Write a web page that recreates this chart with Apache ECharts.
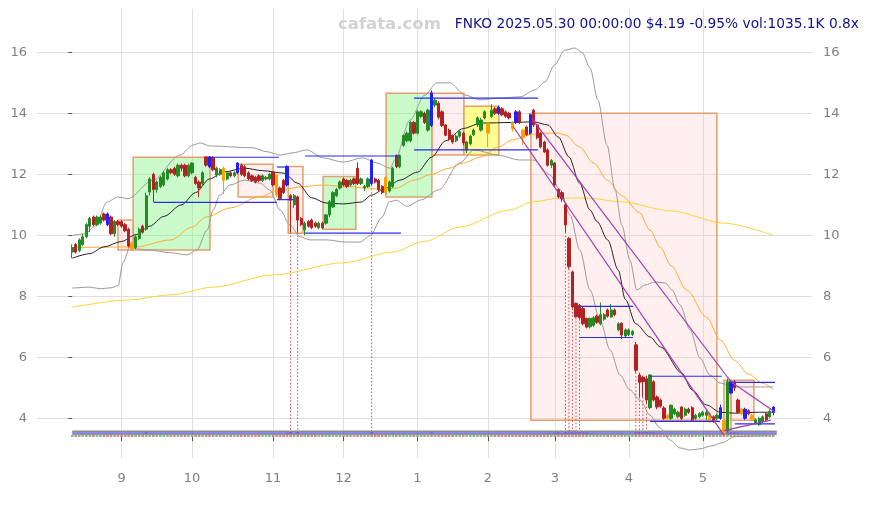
<!DOCTYPE html>
<html><head><meta charset="utf-8">
<script src="https://cdn.jsdelivr.net/npm/echarts@6/dist/echarts.min.js"></script>
<style>html,body{margin:0;padding:0;background:#fff}#c{width:869px;height:505px}</style>
</head><body><div id="c"></div>
<script>
// ---------- calendar ----------
const firstDay = '2024-08-13', lastDay = '2025-05-30';
const holidays = ['2024-09-02','2024-11-28','2024-12-25','2025-01-01','2025-01-09','2025-01-20','2025-02-17','2025-04-18','2025-05-26'];
const padLeft = 10, padRight = 11;

// ---------- OHLC [open, close, low, high] ----------
const ohlcAug = [[9.45,9.6,9.25,9.7],[9.7,9.45,9.4,9.75],[9.5,9.85,9.45,9.9],[9.7,9.95,9.65,10.05],[9.95,10.35,9.9,10.4],[10.3,10.55,10.1,10.6],[10.6,10.35,10.3,10.65],[10.35,10.6,10.3,10.65],[10.4,10.6,10.35,10.65],[10.7,10.5,10.45,10.75],[10.7,10.35,10.3,10.75],[10.6,10.05,10.0,10.65],[10.05,10.45,9.95,10.5],[10.45,10.35,10.3,10.5]];
const ohlcSep = [[10.45,10.3,10.25,10.5],[10.35,10.15,10.1,10.4],[10.2,9.65,9.6,10.25],[9.75,9.55,9.5,9.8],[9.6,9.95,9.55,10.0],[9.9,10.2,9.85,10.25],[10.3,10.1,10.05,10.35],[10.2,11.3,10.15,11.4],[11.42,11.85,11.3,11.9],[12.0,11.5,11.08,12.05],[11.5,11.75,11.4,11.8],[11.6,11.9,11.55,11.95],[11.65,12.05,11.6,12.1],[11.85,12.15,11.8,12.2],[12.15,12.05,12.0,12.2],[12.2,12.0,11.95,12.25],[11.95,12.3,11.9,12.35],[12.3,12.2,12.1,12.35],[12.3,11.95,11.9,12.35],[11.95,12.3,11.9,12.35]];
const ohlcOct = [[12.05,12.37,12.0,12.4],[11.9,11.7,11.65,11.95],[11.75,11.55,11.25,11.8],[11.7,12.05,11.65,12.1],[12.57,12.3,12.25,12.6],[12.57,12.25,12.2,12.6],[12.55,12.15,12.1,12.6],[11.98,12.2,11.9,12.25],[12.0,12.15,11.95,12.2],[12.2,11.8,11.35,12.25],[11.85,12.05,11.8,12.1],[12.05,11.95,11.9,12.1],[11.95,12.05,11.9,12.1],[12.37,12.05,12.0,12.4],[12.3,12.0,11.95,12.35],[12.25,11.95,11.9,12.3],[12.05,11.85,11.8,12.1],[11.95,11.8,11.75,12.0],[11.9,11.75,11.7,11.95],[11.95,11.8,11.75,12.0],[11.8,11.95,11.75,12.0],[11.85,11.9,11.8,11.95],[11.85,12.0,11.8,12.05]];
const ohlcNov = [[12.07,11.65,11.6,12.1],[11.98,11.32,11.25,12.0],[11.55,11.2,11.15,11.6],[11.8,11.4,11.35,11.85],[12.25,11.65,11.6,12.3],[11.3,11.15,10.1,11.35],[11.0,11.3,10.9,11.35],[11.26,10.5,10.1,11.3],[10.55,10.35,10.3,10.6],[10.18,10.4,10.0,10.45],[10.45,10.3,10.25,10.5],[10.5,10.25,10.2,10.55],[10.4,10.3,10.25,10.45],[10.25,10.4,10.2,10.45],[10.4,10.25,10.2,10.45],[10.4,10.67,10.35,10.7],[10.67,11.1,10.6,11.15],[10.93,11.4,10.9,11.45],[11.3,11.5,11.25,11.55],[11.55,11.75,11.5,11.8]];
const ohlcDec = [[11.85,11.65,11.6,11.9],[11.8,11.6,11.55,11.85],[11.65,11.8,11.6,11.85],[11.85,11.7,11.65,11.9],[12.2,11.7,11.65,12.4],[11.7,11.85,11.65,11.9],[11.55,11.6,11.45,11.65],[11.6,11.85,11.55,11.9],[12.47,11.7,11.65,12.5],[11.85,11.75,11.7,11.9],[11.8,11.5,11.45,11.85],[11.6,11.4,11.35,11.65],[11.9,11.4,11.3,11.95],[11.45,11.75,11.4,11.8],[11.6,12.2,11.55,12.25],[12.62,12.25,12.2,12.65],[12.25,12.62,12.2,12.65],[12.95,13.28,12.9,13.3],[13.1,13.35,13.05,13.4],[13.1,13.7,13.05,13.75],[13.7,13.35,13.3,13.75]];
const ohlcJan = [[13.35,14.05,13.3,14.1],[13.9,14.05,13.85,14.1],[14.0,13.7,13.65,14.05],[13.45,14.1,13.4,14.15],[14.67,13.6,13.55,14.75],[14.27,14.43,14.2,14.5],[14.33,13.87,13.8,14.4],[14.05,13.6,13.55,14.1],[13.62,13.28,13.25,13.65],[13.45,13.15,13.1,13.5],[13.28,13.06,13.0,13.3],[13.1,13.25,13.05,13.3],[13.25,13.4,13.2,13.45],[13.35,13.03,12.95,13.4],[12.8,13.06,12.7,13.1],[13.0,13.25,12.95,13.3],[13.3,13.45,13.25,13.5],[13.62,13.85,13.55,13.9],[13.45,13.78,13.4,13.85],[13.85,14.05,13.8,14.1]];
const ohlcFeb = [[13.65,13.35,12.9,13.7],[13.9,14.1,13.85,14.3],[14.15,14.0,13.95,14.2],[14.2,14.0,13.95,14.25],[14.15,13.95,13.9,14.2],[14.05,13.9,13.85,14.1],[14.0,13.85,13.8,14.05],[13.7,13.5,13.4,13.75],[14.05,13.7,13.65,14.1],[14.05,13.7,13.65,14.1],[13.45,13.2,12.95,13.5],[13.55,13.3,13.25,13.6],[13.95,13.35,13.3,14.0],[14.1,13.62,13.55,14.15],[13.62,13.2,13.15,13.65],[13.35,12.9,12.85,13.4],[13.06,12.73,12.7,13.1],[12.8,12.3,12.25,12.85],[12.3,12.45,12.2,12.5]];
const ohlcMar = [[12.37,11.65,11.6,12.4],[11.5,11.26,11.2,11.55],[11.4,11.2,11.1,11.45],[11.0,10.34,10.1,11.05],[9.9,8.97,8.9,9.95],[8.8,7.65,7.6,8.85],[7.77,7.33,7.3,7.8],[7.7,7.3,7.25,7.75],[7.6,7.1,7.05,7.65],[7.28,6.99,6.95,7.3],[7.0,7.28,6.95,7.3],[7.05,7.3,7.0,7.35],[7.35,7.15,7.1,7.4],[7.1,7.4,7.05,7.8],[7.25,7.4,7.2,7.45],[7.55,7.35,7.3,7.6],[7.32,7.55,7.3,7.75],[7.55,7.4,7.35,7.6],[6.9,7.1,6.85,7.15],[7.12,6.73,6.6,7.15],[6.7,6.9,6.65,6.95]];
const ohlcApr = [[6.75,6.9,6.7,6.95],[6.75,6.85,6.7,6.9],[6.41,5.58,5.5,6.5],[5.42,5.18,4.7,5.5],[5.35,5.2,4.7,5.4],[5.3,4.6,4.5,5.4],[4.35,5.42,4.3,5.45],[5.2,4.6,4.55,5.25],[4.7,4.37,4.3,4.75],[4.6,4.4,4.35,4.65],[4.34,4.0,3.95,4.4],[4.1,4.0,3.95,4.15],[4.0,4.43,3.95,4.45],[4.15,4.3,4.1,4.35],[4.05,4.2,4.0,4.25],[4.37,4.0,3.95,4.4],[4.1,4.3,4.05,4.35],[4.3,4.2,4.15,4.35],[4.35,3.95,3.9,4.4],[4.0,4.1,3.95,4.15],[4.05,4.15,4.0,4.2]];
const ohlcMay = [[4.1,4.2,4.05,4.25],[4.1,4.2,3.95,4.3],[4.15,3.9,3.85,4.2],[4.05,3.9,3.85,4.1],[4.0,4.1,3.95,4.15],[4.35,4.0,3.95,4.45],[3.94,3.5,3.4,4.0],[3.6,5.2,3.55,5.3],[5.2,4.83,4.8,5.25],[5.2,5.0,4.9,5.25],[4.6,4.2,4.15,4.65],[4.3,4.15,4.1,4.35],[4.3,4.0,3.95,4.35],[4.25,4.15,4.1,4.3],[4.1,3.95,3.9,4.15],[3.85,3.95,3.8,4.0],[3.8,4.0,3.75,4.05],[3.9,4.05,3.85,4.1],[4.15,3.95,3.9,4.2],[4.05,4.23,4.0,4.3],[4.37,4.19,4.1,4.4]];

// volume (K shares), as drawn (small bars at the bottom)
const volAug = [900,850,1100,950,1200,1000,900,800,850,900,1500,1300,1000,800];
const volSep = [900,850,1400,1200,1000,900,950,2400,1500,1400,1100,1000,950,900,850,800,900,850,950,1000];
const volOct = [1000,1100,1000,900,950,1300,1000,900,1100,850,800,900,850,1200,950,900,850,800,850,900,850,800,1000];
const volNov = [1500,1300,1100,1000,2000,2400,1500,2300,1400,1300,1000,1100,900,850,900,1200,1500,1400,1100,1000];
const volDec = [900,950,1000,850,1300,1000,950,1100,2500,1500,1000,1200,1400,1000,1600,1300,1200,1800,1400,1500,1200];
const volJan = [1600,1300,1100,1300,2200,1500,1400,1300,1200,1100,1000,1000,950,1100,1200,1000,1000,1100,1000,1200];
const volFeb = [1300,1100,1000,1100,1000,950,900,1000,1300,1100,1200,1000,1400,1600,1500,1400,1600,1800,1500];
const volMar = [2000,2200,1800,2800,3200,3000,2800,2600,2500,2200,1800,1600,1500,1400,1500,1300,1400,1300,1500,1700,1400];
const volApr = [1300,1200,2800,2700,2400,2600,2800,2200,1800,1700,1800,1400,1700,1500,1300,1400,1300,1200,1500,1200,1100];
const volMay = [1200,1300,1400,1300,1200,1500,2200,3200,2700,2200,2000,1600,1500,1400,1300,1200,1300,1200,1100,1300,1035.1];

// specially coloured candles (day index)
const blueCandles = [10,39,47,61,85,102,121,126,130,184,187,191,199];
const orangeCandles = [17,43,58,89,118,125,128,169,181,185,190,193];

// indicator lines, read at sampled days: [dayIndex, value]
const blackLine = [[0,9.25],[5,9.4],[9,9.62],[14,9.8],[18,10.02],[22,10.3],[26,10.62],[31,11.0],[35,11.4],[39,11.85],[43,12.08],[49,12.2],[54,12.12],[60,12.04],[64,11.71],[68,11.23],[72,11.06],[77,11.03],[82,11.09],[85,11.32],[89,11.55],[93,11.81],[98,12.07],[102,12.56],[106,13.1],[111,13.5],[116,13.68],[125,13.7],[131,13.72],[135,13.62],[138,13.22],[141,12.57],[144,11.72],[147,10.83],[149,10.45],[152,9.85],[155,8.86],[157,7.9],[160,7.1],[164,6.67],[167,6.34],[173,5.49],[176,4.93],[180,4.44],[184,4.2],[188,4.17],[195,4.2],[199,4.2]];
const bbUpper = [[0,10.0],[3.6,10.05],[6.5,10.3],[9.9,11.09],[13,11.26],[15.8,11.2],[22.9,11.81],[30.6,12.63],[34.3,12.96],[36.3,13.03],[39.1,12.93],[51.3,12.87],[55.3,12.74],[59,12.63],[62.4,12.7],[66.6,12.8],[71.2,12.54],[76.9,12.4],[82.5,12.54],[86.5,12.37],[90.2,12.2],[91.6,12.47],[95.9,13.78],[100.1,14.6],[103.5,15.0],[107.2,15.0],[111.5,14.6],[115.7,14.44],[121.4,14.5],[127.1,14.54],[131.4,14.77],[134.2,15.03],[137,15.6],[139.8,16.07],[142.7,16.14],[144.7,16.0],[147,15.49],[149.2,14.44],[151.8,12.96],[154.1,11.49],[156,10.34],[158.3,9.19],[160.3,8.21],[162.6,8.37],[165.4,8.47],[168.3,8.44],[170.3,8.21],[172.5,7.72],[175.4,6.9],[178.2,5.98],[181,5.42],[183.9,5.16],[188.1,5.03],[199,5.03]];
const bbLower = [[0,8.27],[5,8.3],[8,8.25],[11,8.28],[13,8.35],[14.4,9.1],[16.4,9.62],[18.6,9.55],[22,9.52],[27.8,9.43],[32.6,9.36],[35.4,9.52],[38.3,10.17],[40,10.83],[41.9,11.32],[44.8,11.65],[49,11.81],[53.3,11.71],[56.1,11.49],[59,10.83],[61.8,10.34],[64.7,9.95],[67.5,9.85],[72.3,9.85],[77.4,9.78],[81.7,9.78],[84.5,9.98],[88,10.6],[90,11.1],[92,11.15],[95,10.95],[99,11.16],[104,11.49],[110,12.37],[114,12.8],[121,12.63],[127,12.47],[131,12.47],[135.6,11.98],[138.5,11.49],[141.3,10.67],[144.1,9.52],[147,8.21],[149.8,7.22],[152.7,6.24],[155.5,5.42],[158.3,4.93],[161.2,4.6],[164,4.1],[166.9,3.68],[169.7,3.29],[172.5,3.03],[175.4,2.96],[178.2,3.0],[181.6,3.1],[184.5,3.2],[188.1,3.4],[195.2,3.43],[199.5,3.48]];
const orangeLine = [[0,9.6],[18,9.62],[28,9.85],[34,10.27],[38,10.6],[45,10.9],[53,11.26],[59,11.49],[66,11.6],[71,11.65],[78,11.6],[84,11.55],[88,11.5],[92,11.55],[97,11.81],[102,12.0],[107,12.2],[111,12.37],[116,12.57],[121,12.9],[125,13.13],[130,13.3],[134,13.35],[138,13.35],[140,13.29],[144,12.9],[148,12.37],[152,11.8],[156,11.3],[161,10.75],[164,10.17],[167,9.6],[170,9.0],[174.5,8.2],[180,7.32],[184,6.57],[188,5.9],[192,5.45],[196,5.15],[199,4.95]];
const yellowLine = [[0,7.64],[16,7.88],[28,8.05],[40,8.3],[57,8.7],[77,9.1],[91,9.45],[100,9.8],[110,10.27],[124,10.83],[131,11.1],[138,11.22],[146,11.22],[156,11.1],[170,10.8],[185,10.4],[199,10.0]];

// zones: [fromDay, toDay, top, bottom]
const greenZones = [[17.3,39.1,12.56,9.52],[71.2,80.5,11.93,10.2],[89.1,102.1,14.66,11.26],[185,187,5.25,3.6]];
const pinkZones = [[13,17.3,10.5,9.52],[47.1,57.0,12.33,11.26],[61.3,65.5,12.26,10.07],[102.1,111.2,14.66,12.63],[130.2,183,14.0,3.94],[187,193.5,5.25,3.94]];
const yellowZones = [[111.2,121.1,14.23,12.63]];

// horizontal levels: [fromDay, toDay, value]
const blueLevels = [[23.2,58.1,11.08],[39.1,58.7,12.56],[58.1,61.3,12.24],[58.1,62.7,11.17],[66.1,93.0,12.6],[66.1,93.3,10.07],[97,132.2,12.8],[97,132.2,14.5],[144.1,159.2,7.67],[144.1,159.2,6.65],[164,184.4,5.38],[164,183.9,3.9],[187.5,199.5,5.18],[188.1,199.5,3.82]];
// trend lines: [fromDay, fromValue, toDay, toValue]
const purpleLines = [[125.2,13.56,185,3.45],[130.4,13.84,187,5.2],[187,5.2,199.6,4.2],[185,3.6,198.3,3.94]];
// dotted markers from the day's low down to the volume strip
const redMarkDays = [62,64,140,141,142,143,144,160,161,162,163];
const greenMarkDays = [85];
const markBase = 3.52;
// volume strip reference lines [value]
const volStripGray = [3.567, 3.469];
const volStripBlue = [3.518];

// y ticks
const yTicks = [4,6,8,10,12,14,16];
const yMin = 2.7, yMax = 17.42;

const titleText = 'FNKO 2025.05.30 00:00:00 $4.19 -0.95% vol:1035.1K 0.8x';
const watermark = 'cafata.com';

// ---------- build ----------
function tradingDays(){
  const out=[]; let t=Date.parse(firstDay+'T00:00:00Z'); const end=Date.parse(lastDay+'T00:00:00Z');
  while(t<=end){ const d=new Date(t); const wd=d.getUTCDay(); const s=d.toISOString().slice(0,10);
    if(wd!==0&&wd!==6&&holidays.indexOf(s)<0) out.push(s); t+=86400000; }
  return out;
}
const days = tradingDays();
const ohlc = [].concat(ohlcAug,ohlcSep,ohlcOct,ohlcNov,ohlcDec,ohlcJan,ohlcFeb,ohlcMar,ohlcApr,ohlcMay);
const vols = [].concat(volAug,volSep,volOct,volNov,volDec,volJan,volFeb,volMar,volApr,volMay);
const n = days.length;
const cats = [];
for(let i=0;i<padLeft;i++) cats.push('L'+i);
days.forEach(d=>cats.push(d));
for(let i=0;i<padRight;i++) cats.push('R'+i);
const monthStart = new Set();
for(let i=1;i<n;i++){ if(days[i].slice(5,7)!==days[i-1].slice(5,7)) monthStart.add(i+padLeft); }
const isMonthStart = (idx)=>monthStart.has(idx);

const GREEN='#228b22', RED='#b22222', BLUE='#1f1fff', ORANGE='#ffa000';
const candleData=[], volData=[];
for(let i=0;i<padLeft;i++){ candleData.push(['-','-','-','-']); volData.push('-'); }
ohlc.forEach((r,i)=>{
  const item={value:r};
  let c=null;
  if(blueCandles.indexOf(i)>=0) c=BLUE; else if(orangeCandles.indexOf(i)>=0) c=ORANGE;
  if(c) item.itemStyle={color:c,color0:c,borderColor:c,borderColor0:c};
  candleData.push(item);
  const up = r[1]>=r[0];
  volData.push({value:vols[i], itemStyle:{color: up?'rgba(34,139,34,0.55)':'rgba(178,34,34,0.55)'}});
});
for(let i=0;i<padRight;i++){ candleData.push(['-','-','-','-']); volData.push('-'); }

const zoneData = [];
pinkZones.forEach(z=>zoneData.push(z.concat([0])));
greenZones.forEach(z=>zoneData.push(z.concat([1])));
yellowZones.forEach(z=>zoneData.push(z.concat([2])));
const zoneFill = ['rgba(255,205,205,0.32)','rgba(140,245,140,0.45)','rgba(255,255,110,0.75)'];

const markData = [];
redMarkDays.forEach(d=>markData.push([d, ohlc[d][2], markBase, 0]));
greenMarkDays.forEach(d=>markData.push([d, ohlc[d][2], markBase, 1]));

const gridTop=9, gridBottomPx=458, gridLeft=37, gridRight=812;
const gridH = gridBottomPx-gridTop;
const volPxPerK = 0.0022, volBasePx = 21;
const volMin = -volBasePx/volPxPerK, volMax = volMin + gridH/volPxPerK;

function lineSeries(pts,color,width,z){
  return {type:'line',xAxisIndex:1,yAxisIndex:0,data:pts,showSymbol:false,symbol:'none',smooth:0.3,smoothMonotone:'x',
    lineStyle:{color:color,width:width},z:z,silent:true,animation:false};
}
const segRender = (color,width)=>function(params,api){
  const a=api.coord([api.value(0),api.value(2)]), b=api.coord([api.value(1),api.value(2)]);
  return {type:'line',shape:{x1:a[0],y1:a[1],x2:b[0],y2:b[1]},style:{stroke:color,lineWidth:width}};
};

const option = {
  animation:false,
  backgroundColor:'#ffffff',
  grid:{left:gridLeft,right:869-gridRight,top:gridTop,bottom:505-gridBottomPx,containLabel:false},
  xAxis:[
    {type:'category',data:cats,boundaryGap:false,
      axisLine:{show:false},
      axisTick:{show:true,interval:(i)=>isMonthStart(i),length:4,inside:false,lineStyle:{color:'#555'}},
      axisLabel:{interval:(i)=>isMonthStart(i),formatter:(v)=>String(parseInt(v.slice(5,7),10)),color:'#808080',fontSize:13,fontFamily:'DejaVu Sans',margin:9},
      splitLine:{show:true,interval:(i)=>isMonthStart(i),lineStyle:{color:'#dedede',width:1}},
      offset:5},
    {type:'value',min:-padLeft,max:n-1+padRight,show:false}
  ],
  yAxis:[
    {type:'value',position:'left',min:yMin,max:yMax,
      axisLine:{show:false},
      axisTick:{show:true,customValues:yTicks,length:4,lineStyle:{color:'#555'}},
      axisLabel:{customValues:yTicks,color:'#808080',fontSize:13,fontFamily:'DejaVu Sans',margin:10},
      splitLine:{show:true,lineStyle:{color:'#dedede',width:1}}},
    {type:'value',position:'right',min:yMin,max:yMax,
      axisLine:{show:false},axisTick:{show:false,customValues:yTicks},
      axisLabel:{customValues:yTicks,color:'#808080',fontSize:13,fontFamily:'DejaVu Sans',margin:11},
      splitLine:{show:false}},
    {type:'value',min:volMin,max:volMax,show:false,splitLine:{show:false}}
  ],
  series:[
    {type:'custom',xAxisIndex:1,yAxisIndex:0,z:1,silent:true,
      encode:{x:[0,1],y:[2,3]},data:zoneData,
      renderItem:function(params,api){
        const p0=api.coord([api.value(0),api.value(2)]), p1=api.coord([api.value(1),api.value(3)]);
        return {type:'rect',shape:{x:p0[0],y:p0[1],width:p1[0]-p0[0],height:p1[1]-p0[1]},
          style:{fill:zoneFill[api.value(4)],stroke:'#e3a06c',lineWidth:1.5}};
      }},
    {type:'bar',xAxisIndex:0,yAxisIndex:2,data:volData,barWidth:2.6,z:2,silent:true},
    {type:'custom',xAxisIndex:1,yAxisIndex:0,z:2,silent:true,encode:{x:0,y:[1,2]},data:markData,
      renderItem:function(params,api){
        const a=api.coord([api.value(0),api.value(1)]), b=api.coord([api.value(0),api.value(2)]);
        return {type:'line',shape:{x1:a[0],y1:a[1],x2:b[0],y2:b[1]},
          style:{stroke:api.value(3)?'#3a9a3a':'#d04848',lineWidth:1,lineDash:[1.5,2]}};
      }},
    {type:'custom',xAxisIndex:1,yAxisIndex:0,z:3,silent:true,encode:{x:[0,1],y:2},
      data:[[0,n,volStripGray[0]]],renderItem:segRender('#8c8c8c',2)},
    {type:'custom',xAxisIndex:1,yAxisIndex:0,z:3,silent:true,encode:{x:[0,1],y:2},
      data:[[0,n,volStripGray[1]]],renderItem:segRender('#999999',1.2)},
    {type:'custom',xAxisIndex:1,yAxisIndex:0,z:3,silent:true,encode:{x:[0,1],y:2},
      data:volStripBlue.map(v=>[0,n,v]),renderItem:segRender('#5555ee',1.2)},
    lineSeries(yellowLine,'#ffd23a',1,3),
    lineSeries(orangeLine,'#ffaa30',1,3),
    lineSeries(bbUpper,'#9a9a9a',1,3),
    lineSeries(bbLower,'#9a9a9a',1,3),
    lineSeries(blackLine,'#222222',1,3),
    {type:'candlestick',xAxisIndex:0,yAxisIndex:0,data:candleData,barWidth:2.8,z:5,silent:true,
      itemStyle:{color:GREEN,color0:RED,borderColor:GREEN,borderColor0:RED,borderWidth:1}},
    {type:'custom',xAxisIndex:1,yAxisIndex:0,z:6,silent:true,encode:{x:[0,1],y:2},
      data:blueLevels,renderItem:segRender('#2a2af0',1.2)},
    {type:'custom',xAxisIndex:1,yAxisIndex:0,z:6,silent:true,encode:{x:[0,2],y:[1,3]},
      data:purpleLines,renderItem:function(params,api){
        const a=api.coord([api.value(0),api.value(1)]), b=api.coord([api.value(2),api.value(3)]);
        return {type:'line',shape:{x1:a[0],y1:a[1],x2:b[0],y2:b[1]},style:{stroke:'#a03ab0',lineWidth:1.2}};
      }}
  ],
  graphic:[
    {type:'text',left:338,top:16,style:{text:watermark,font:'bold 16.5px "DejaVu Sans"',fill:'#d2d2d2'},z:100},
    {type:'text',right:10,top:17,style:{text:titleText,font:'13.75px "DejaVu Sans"',fill:'#10108c'},z:100}
  ]
};
const chart = echarts.init(document.getElementById('c'));
chart.setOption(option);
</script></body></html>
